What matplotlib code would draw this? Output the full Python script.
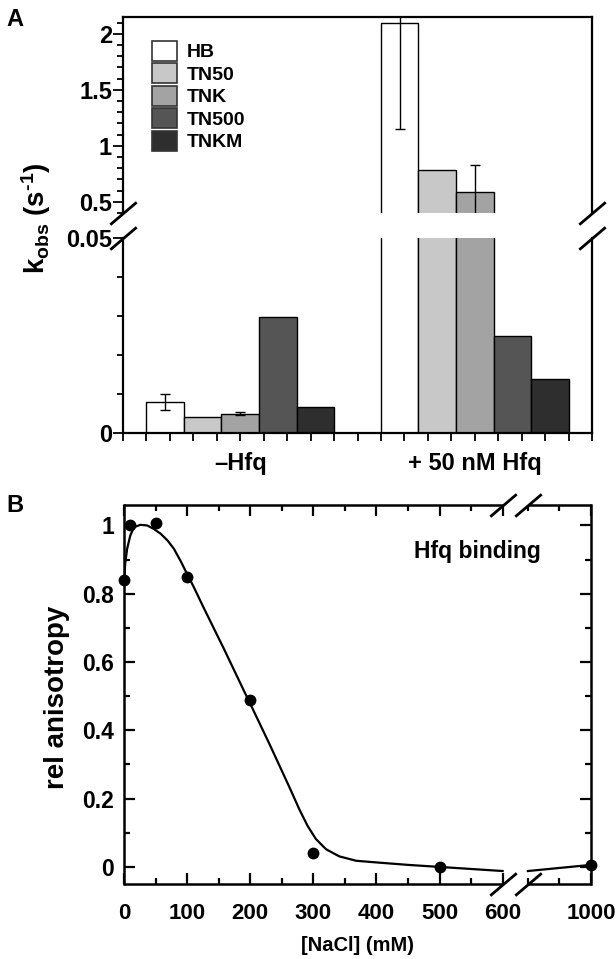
import matplotlib
matplotlib.use('Agg')
import matplotlib.pyplot as plt
import numpy as np
from matplotlib.patches import Patch
from matplotlib.ticker import FixedLocator, MultipleLocator, NullFormatter
from matplotlib.transforms import blended_transform_factory

plt.rcParams['font.family'] = ['Liberation Sans', 'DejaVu Sans']
plt.rcParams['font.weight'] = 'bold'
plt.rcParams['mathtext.default'] = 'regular'

# ---------------- data: panel A ----------------
buffers = ['HB', 'TN50', 'TNK', 'TN500', 'TNKM']
bar_colors = ['#ffffff', '#c8c8c8', '#a3a3a3', '#555555', '#2e2e2e']
groups = ['\u2013Hfq', '+ 50 nM Hfq']
kobs_no_hfq = [0.0079, 0.0042, 0.0050, 0.0298, 0.0067]
err_no_hfq = [0.0021, 0.0, 0.0004, 0.0, 0.0]
kobs_hfq = [2.10, 0.784, 0.585, 0.0250, 0.0138]
err_hfq = [0.95, 0.0, 0.24, 0.0, 0.0]

# ---------------- data: panel B ----------------
nacl_mM = [0, 10, 50, 100, 200, 300, 500, 1000]
rel_aniso = [0.839, 1.000, 1.006, 0.849, 0.488, 0.040, 0.000, 0.006]
fit_x_left = [0, 2, 5, 10, 16, 26, 37, 47, 58, 69, 79, 90, 100, 111, 126, 142, 158,
              174, 190, 199, 215, 231, 246, 262, 278, 291, 304, 320, 341, 368, 404,
              450, 500, 550, 600]
fit_y_left = [0.839, 0.890, 0.932, 0.971, 0.995, 1.002, 1.000, 0.990, 0.976, 0.956,
              0.932, 0.895, 0.858, 0.818, 0.760, 0.700, 0.640, 0.578, 0.516, 0.482,
              0.420, 0.358, 0.298, 0.234, 0.168, 0.120, 0.082, 0.052, 0.031, 0.0180,
              0.0126, 0.006, 0.000, -0.006, -0.012]
fit_x_right = [900, 950, 1000]
fit_y_right = [-0.012, -0.003, 0.006]

W, H = 616, 959
fig = plt.figure(figsize=(W / 100, H / 100), dpi=100)


def ax_rect(l, t, r, b):
    return [l / W, 1 - b / H, (r - l) / W, (b - t) / H]


ax_up = fig.add_axes(ax_rect(123, 17, 592, 213))
ax_lo = fig.add_axes(ax_rect(123, 238, 592, 433))

group_start = [1, 11]
bar_w = 1.6
for ax in (ax_up, ax_lo):
    for g, (vals, errs) in enumerate([(kobs_no_hfq, err_no_hfq), (kobs_hfq, err_hfq)]):
        xs = [group_start[g] + i * bar_w for i in range(len(buffers))]
        ax.bar(xs, vals, width=bar_w, align='edge', color=bar_colors,
               edgecolor='black', linewidth=1.0, zorder=2)
        for x, v, e in zip(xs, vals, errs):
            if e > 0:
                ax.errorbar(x + bar_w / 2, v, yerr=e, fmt='none', ecolor='black',
                            elinewidth=1.0, capsize=3.5, capthick=1.0, zorder=3)
    ax.set_xlim(0, 20)
    for s in ax.spines.values():
        s.set_linewidth(1.6)

ax_up.set_ylim(0.4, 2.15)
ax_lo.set_ylim(0, 0.05)
ax_up.spines['bottom'].set_visible(False)
ax_lo.spines['top'].set_visible(False)

ax_up.yaxis.set_major_locator(FixedLocator([0.5, 1, 1.5, 2]))
ax_up.yaxis.set_minor_locator(MultipleLocator(0.1))
ax_up.set_yticklabels(['0.5', '1', '1.5', '2'])
ax_up.tick_params(axis='x', bottom=False, labelbottom=False)
ax_lo.yaxis.set_major_locator(FixedLocator([0, 0.05]))
ax_lo.set_yticklabels(['0', '0.05'])
ax_lo.yaxis.set_minor_locator(FixedLocator([0.01, 0.02, 0.03, 0.04]))
for ax in (ax_up, ax_lo):
    ax.tick_params(axis='y', which='major', direction='out', length=7, width=1.3,
                   labelsize=17, pad=1)
    ax.tick_params(axis='y', which='minor', direction='out', length=4, width=1.3)

tick_pos = list(range(0, 21))
tick_lab = [''] * 21
tick_lab[5] = groups[0]
tick_lab[15] = groups[1]
ax_lo.set_xticks(tick_pos)
ax_lo.set_xticklabels(tick_lab)
ax_lo.tick_params(axis='x', direction='out', length=6, width=1.3, labelsize=17, pad=8)

# legend
handles = [Patch(facecolor=c, edgecolor='#333333', linewidth=1.2) for c in bar_colors]
ax_up.legend(handles, buffers, loc='upper left', bbox_to_anchor=(0.062, 0.878),
             frameon=False, fontsize=14, handlelength=1.3, handleheight=1.2,
             labelspacing=0.1, handletextpad=0.5, borderpad=0, borderaxespad=0)

# break marks on panel A
brk = [(-1, -0.85), (1, 0.85)]
for ax, yy in ((ax_up, 0), (ax_lo, 1)):
    ax.plot([0, 1], [yy, yy], transform=ax.transAxes, marker=brk, markersize=19,
            linestyle='none', color='black', mec='black', mew=2.0, clip_on=False)

fig.text(36 / W, 1 - 218 / H, 'k$_{obs}$ (s$^{\u20101}$)', rotation=90, ha='center',
         va='center', fontsize=20, fontweight='bold')
fig.text(15 / W, 1 - 19 / H, 'A', fontsize=17, fontweight='bold', ha='center', va='center')

# ---------------- panel B ----------------
def fwd(x):
    x = np.asarray(x, dtype=float)
    return np.where(x <= 600, x, np.where(x >= 900, x - 260, 600 + (x - 600) * 40 / 300))


def inv(d):
    d = np.asarray(d, dtype=float)
    return np.where(d <= 600, d, np.where(d >= 640, d + 260, 600 + (d - 600) * 300 / 40))


axb = fig.add_axes(ax_rect(124, 505, 591, 884))
axb.set_xscale('function', functions=(fwd, inv))
axb.set_xlim(0, 1000)
axb.set_ylim(-0.05, 1.06)

axb.plot(fit_x_left, fit_y_left, color='black', lw=1.6, zorder=2)
axb.plot(fit_x_right, fit_y_right, color='black', lw=1.6, zorder=2)
axb.plot(nacl_mM, rel_aniso, 'o', color='black', markersize=7.5, zorder=3, clip_on=False)

axb.xaxis.set_major_locator(FixedLocator([0, 100, 200, 300, 400, 500, 600, 1000]))
axb.xaxis.set_minor_locator(FixedLocator([50, 150, 250, 350, 450, 550, 900, 950]))
axb.xaxis.set_major_formatter(plt.FuncFormatter(lambda v, p: f'{v:.0f}'))
axb.xaxis.set_minor_formatter(NullFormatter())
axb.yaxis.set_major_locator(MultipleLocator(0.2))
axb.yaxis.set_minor_locator(MultipleLocator(0.1))
axb.yaxis.set_major_formatter(plt.FuncFormatter(
    lambda v, p: '0' if abs(v) < 1e-9 else ('1' if abs(v - 1) < 1e-9 else f'{v:.1f}')))
axb.tick_params(which='both', direction='in', top=True, right=True, width=1.6)
axb.tick_params(which='major', length=8)
axb.tick_params(which='minor', length=4.5)
axb.tick_params(axis='x', labelsize=16, pad=14)
axb.tick_params(axis='y', labelsize=16.5, pad=7)

for side in ('left', 'right'):
    axb.spines[side].set_linewidth(1.8)
axb.spines['top'].set_visible(False)
axb.spines['bottom'].set_visible(False)
tb = blended_transform_factory(axb.transData, axb.transAxes)
for yy in (0, 1):
    axb.plot([0, 600], [yy, yy], transform=tb, color='black', lw=1.8, clip_on=False,
             solid_capstyle='butt')
    axb.plot([900, 1000], [yy, yy], transform=tb, color='black', lw=1.8, clip_on=False,
             solid_capstyle='butt')
    axb.plot([600, 900], [yy, yy], transform=tb, marker=brk, markersize=19,
             linestyle='none', mec='black', mew=2.0, clip_on=False)

axb.text(0.756, 0.876, 'Hfq binding', transform=axb.transAxes, ha='center', va='center',
         fontsize=16.5, fontweight='bold')
axb.set_xlabel('[NaCl] (mM)', fontsize=14.5, fontweight='bold', labelpad=8)
fig.text(57 / W, 1 - 697 / H, 'rel anisotropy', rotation=90, ha='center', va='center',
         fontsize=20, fontweight='bold')
fig.text(15 / W, 1 - 506 / H, 'B', fontsize=17, fontweight='bold', ha='center', va='center')

fig.savefig('out.png', dpi=100)
